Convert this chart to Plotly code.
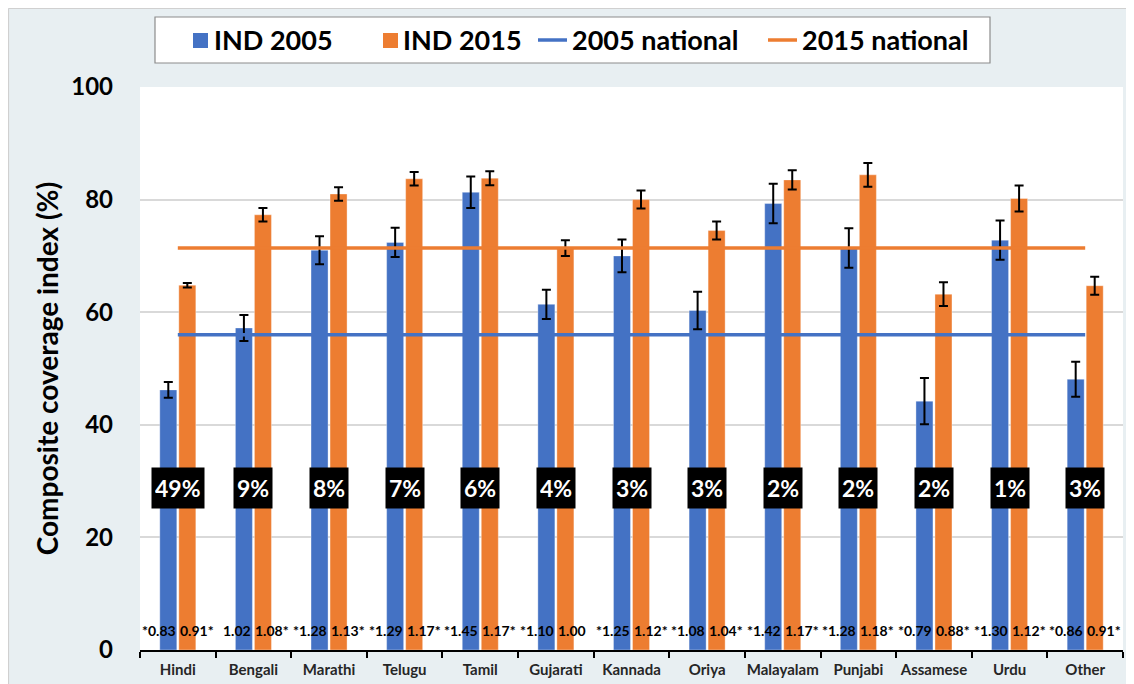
import plotly.graph_objects as go

categories = ["Hindi", "Bengali", "Marathi", "Telugu", "Tamil", "Gujarati", "Kannada",
              "Oriya", "Malayalam", "Punjabi", "Assamese", "Urdu", "Other"]
ind_2005 = [46.2, 57.2, 71.0, 72.4, 81.3, 61.4, 70.0, 60.3, 79.3, 71.4, 44.2, 72.8, 48.1]
ind_2005_err = [1.4, 2.3, 2.5, 2.6, 2.8, 2.6, 2.9, 3.35, 3.5, 3.5, 4.1, 3.5, 3.1]
ind_2015 = [64.8, 77.3, 81.0, 83.7, 83.8, 71.4, 80.0, 74.5, 83.5, 84.4, 63.2, 80.2, 64.7]
ind_2015_err = [0.4, 1.2, 1.2, 1.2, 1.25, 1.4, 1.6, 1.6, 1.7, 2.1, 2.1, 2.3, 1.6]
national_2005 = 56.0
national_2015 = 71.4
ratio_2005 = ["*0.83", "1.02", "*1.28", "*1.29", "*1.45", "*1.10", "*1.25",
              "*1.08", "*1.42", "*1.28", "*0.79", "*1.30", "*0.86"]
ratio_2015 = ["0.91*", "1.08*", "1.13*", "1.17*", "1.17*", "1.00", "1.12*",
              "1.04*", "1.17*", "1.18*", "0.88*", "1.12*", "0.91*"]
population_share = ["49%", "9%", "8%", "7%", "6%", "4%", "3%", "3%", "2%", "2%", "2%", "1%", "3%"]
series_names = ["IND 2005", "IND 2015", "2005 national", "2015 national"]

BLUE = "#4472C4"
ORANGE = "#ED7D31"
FONT = "Lato"
BG = "#e8eff2"

# figure sits at (8, 8) in the page (body margin)
OFF = 8
W, H = 1126, 676
L, R, T, B = 132, 11, 79, 34
PW, PH = W - L - R, H - T - B


def px(x):  # page pixel x -> paper
    return (x - OFF - L) / PW


def py(y):  # page pixel y -> paper
    return (H - B - (y - OFF)) / PH


fig = go.Figure()
fig.add_trace(go.Bar(
    x=categories, y=ind_2005, name=series_names[0], marker_color=BLUE,
    marker_line=dict(color="rgba(255,255,255,0.35)", width=1),
    error_y=dict(type="data", array=ind_2005_err, color="black", thickness=2, width=4.5),
))
fig.add_trace(go.Bar(
    x=categories, y=ind_2015, name=series_names[1], marker_color=ORANGE,
    marker_line=dict(color="rgba(255,255,255,0.35)", width=1),
    error_y=dict(type="data", array=ind_2015_err, color="black", thickness=2, width=4.5),
))
fig.add_trace(go.Scatter(
    x=[categories[0], categories[-1]], y=[national_2005, national_2005],
    mode="lines", name=series_names[2], line=dict(color=BLUE, width=3.5),
))
fig.add_trace(go.Scatter(
    x=[categories[0], categories[-1]], y=[national_2015, national_2015],
    mode="lines", name=series_names[3], line=dict(color=ORANGE, width=3.5),
))

annotations = []
for cat, r5, r15, share in zip(categories, ratio_2005, ratio_2015, population_share):
    annotations.append(dict(x=cat, y=3.4, text=r5, showarrow=False, xanchor="right",
                            xshift=-1, font=dict(family=FONT, size=14, color="black", weight="bold"),
                            borderpad=0))
    annotations.append(dict(x=cat, y=3.4, text=r15, showarrow=False, xanchor="left",
                            xshift=1, font=dict(family=FONT, size=14, color="black", weight="bold"),
                            borderpad=0))
    annotations.append(dict(x=cat, y=28.8, text=share, showarrow=False,
                            font=dict(family=FONT, size=23, color="white", weight="bold"),
                            bgcolor="black", borderpad=3, height=34))

# manual legend (page pixel positions)
legend_items = [
    ("square", BLUE, 193, 212),
    ("square", ORANGE, 383, 401),
    ("line", BLUE, 538, 570),
    ("line", ORANGE, 768, 800),
]
shapes = [
    # thin frame on the figure's top and left edges
    dict(type="line", xref="paper", yref="paper", x0=px(8.5), x1=px(1140), y0=py(8.5), y1=py(8.5),
         line=dict(color="#d0d0d0", width=1.2)),
    dict(type="line", xref="paper", yref="paper", x0=px(8.5), x1=px(8.5), y0=py(700), y1=py(8.5),
         line=dict(color="#d0d0d0", width=1.2)),
    # legend box
    dict(type="rect", xref="paper", yref="paper", x0=px(155), x1=px(990), y0=py(63), y1=py(17),
         fillcolor="white", line=dict(color="#8c8c8c", width=1.2)),
]
for (kind, color, sx, tx), name in zip(legend_items, series_names):
    if kind == "square":
        shapes.append(dict(type="rect", xref="paper", yref="paper", x0=px(sx), x1=px(sx + 15),
                           y0=py(48), y1=py(33), fillcolor=color, line_width=0))
    else:
        shapes.append(dict(type="line", xref="paper", yref="paper", x0=px(sx), x1=px(sx + 29),
                           y0=py(40), y1=py(40), line=dict(color=color, width=3.5)))
    annotations.append(dict(xref="paper", yref="paper", x=px(tx), y=py(40), text=name,
                            xanchor="left", yanchor="middle", showarrow=False,
                            font=dict(family=FONT, size=27, color="black", weight="bold")))

fig.update_layout(
    width=W, height=H, autosize=False,
    margin=dict(l=L, r=R, t=T, b=B, pad=0, autoexpand=False),
    paper_bgcolor=BG, plot_bgcolor="white",
    barmode="group", bargap=0.497, bargroupgap=0.105,
    showlegend=False,
    font=dict(family=FONT, color="black"),
    annotations=annotations, shapes=shapes,
)
fig.update_xaxes(
    type="category", showline=True, linecolor="black", linewidth=2,
    ticks="outside", tickson="boundaries", ticklen=6, tickwidth=2, tickcolor="black",
    tickangle=0, automargin=False, ticklabelstandoff=5,
    tickfont=dict(family=FONT, size=15, color="#262626", weight="bold"),
    showgrid=False,
)
fig.update_yaxes(
    range=[0, 100], dtick=20, showline=False, zeroline=False,
    showgrid=True, gridcolor="#d9d9d9", gridwidth=1.5,
    tickfont=dict(family=FONT, size=24, color="black", weight="bold"),
    ticklabelstandoff=26, automargin=False,
    title=dict(text="Composite coverage index (%)", standoff=4,
               font=dict(family=FONT, size=28, color="black", weight="bold")),
)

fig.write_html("out.html")
